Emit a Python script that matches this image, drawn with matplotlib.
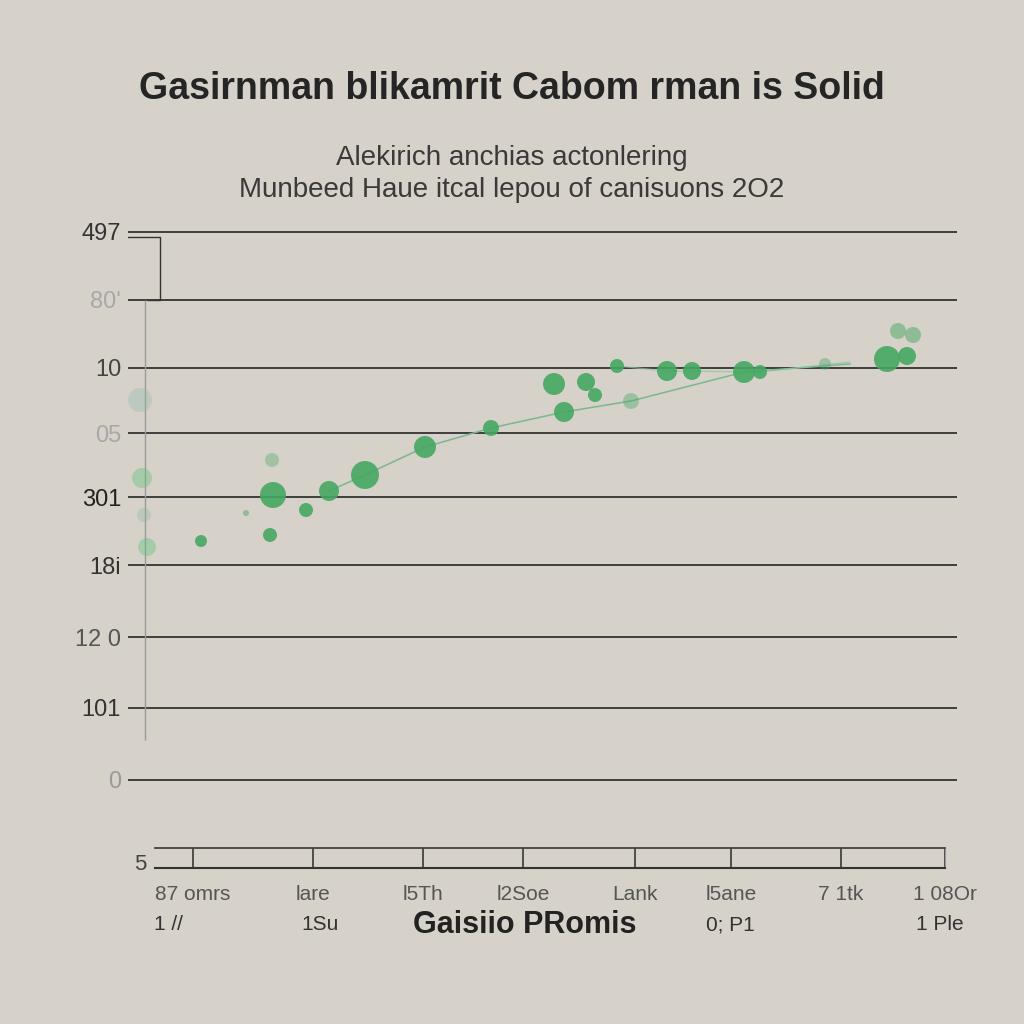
import matplotlib
matplotlib.use("Agg")
import matplotlib.pyplot as plt

plt.rcParams['font.family'] = ['Liberation Sans', 'DejaVu Sans']

# Data (x, y in chart units)
bubbleX = [71, 140, 143, 176, 199, 235, 295, 361, 434, 424, 456, 465, 487, 501, 537,
           562, 614, 630, 695, 757, 777, 768, 783, 142, 116, 10, 12, 14, 17]
bubbleY = [239, 245, 285, 270, 289, 305, 333, 352, 368, 396, 398, 385, 414, 379, 409,
           409, 408, 408, 416, 421, 424, 449, 445, 320, 267, 380, 302, 265, 233]
bubbleR = [6, 7, 13, 7, 10, 14, 11, 8, 10, 11, 9, 7, 7, 8, 10,
           9, 11, 7, 6, 13, 9, 8, 8, 7, 3, 12, 10, 7, 9]
bubbleAlpha = [0.9, 0.9, 0.9, 0.9, 0.9, 0.9, 0.9, 0.9, 0.9, 0.9, 0.9, 0.9, 0.9, 0.4, 0.9,
               0.9, 0.9, 0.9, 0.4, 0.9, 0.9, 0.5, 0.5, 0.35, 0.5, 0.35, 0.4, 0.3, 0.4]
bubbleColor = ['#45a862'] * 25 + ['#8fb8b0', '#5cc27a', '#7fb89a', '#5cc27a']

trendX = [199, 235, 295, 361, 434, 501, 614, 720]
trendY = [289, 305, 333, 352, 368, 379, 408, 416]
trend2X = [487, 537, 562, 614, 630, 720]
trend2Y = [414, 409, 409, 408, 408, 418]

yTicks = [0, 72, 143, 215, 283, 347, 412, 480, 548]
yLabels = ['0', '101', '12 0', '18i', '301', '05', '10', "80'", '497']
yLabelColors = ['#9a9a9a', '#333333', '#555555', '#333333', '#222222',
                '#a8a8a8', '#444444', '#a8a8a8', '#333333']

stripTicks = [38, 158, 268, 368, 480, 576, 686, 790]
stripLabels = ['87 omrs', 'lare', 'l5Th', 'l2Soe', 'Lank', 'l5ane', '7 1tk', '1 08Or']
row2Pos = [13, 165, 575, 785]
row2Labels = ['1 //', '1Su', '0; P1', '1 Ple']

bg = '#d6d1c9'

fig = plt.figure(figsize=(10.24, 10.24), dpi=100, facecolor=bg)

# main plot
ax = fig.add_axes([128 / 1024, 1 - 782 / 1024, 829 / 1024, 554 / 1024])
ax.set_facecolor(bg)
ax.set_xlim(-2, 827)
ax.set_ylim(-2, 552)
for s in ax.spines.values():
    s.set_visible(False)
ax.set_xticks([])
ax.set_yticks(yTicks)
ax.set_yticklabels(yLabels, fontsize=17)
for lbl, c in zip(ax.get_yticklabels(), yLabelColors):
    lbl.set_color(c)
ax.tick_params(axis='y', length=0, pad=5)
for yt in yTicks:
    ax.axhline(yt, color='#333333', lw=1.3, zorder=1)

# faint vertical axis line and the bracket top-left
ax.vlines(15, 40, 480, color='#9a9a9a', lw=1, zorder=1)
ax.plot([-2, 30, 30, 18], [543, 543, 480, 480], color='#333333', lw=1, zorder=1)

ax.plot(trendX, trendY, color='#7ab893', lw=1.1, zorder=2)
ax.plot(trend2X, trend2Y, color='#8cc4a2', lw=1, alpha=0.7, zorder=2)

for x, y, r, a, c in zip(bubbleX, bubbleY, bubbleR, bubbleAlpha, bubbleColor):
    ax.scatter(x, y, s=2.07 * r * r, color=c, alpha=a, edgecolors='none', zorder=3)

# bottom strip
ax2 = fig.add_axes([155 / 1024, 1 - 868 / 1024, 790 / 1024, 20 / 1024])
ax2.set_facecolor(bg)
ax2.set_xlim(0, 790)
ax2.set_ylim(0, 1)
ax2.spines['left'].set_visible(False)
ax2.spines['right'].set_color('#999999')
ax2.spines['top'].set_color('#444444')
ax2.spines['bottom'].set_color('#333333')
ax2.spines['top'].set_linewidth(1.3)
ax2.spines['bottom'].set_linewidth(1.5)
ax2.set_xticks(stripTicks)
ax2.set_xticklabels(stripLabels, fontsize=15, color='#555555')
ax2.tick_params(axis='x', length=0, pad=12)
ax2.grid(axis='x', color='#444444', lw=1.3)
ax2.set_yticks([0.3])
ax2.set_yticklabels(['5'], fontsize=16, color='#444444')
ax2.tick_params(axis='y', length=0, pad=6)

for xp, t in zip(row2Pos, row2Labels):
    ax2.text(xp, -2.85, t, transform=ax2.get_xaxis_transform(), ha='center', va='center',
             fontsize=15, color='#333333')
ax2.text(370, -2.85, 'Gaisiio PRomis', transform=ax2.get_xaxis_transform(), ha='center',
         va='center', fontsize=22, fontweight='bold', color='#222222')

# titles
fig.text(0.5, 1 - 89 / 1024, 'Gasirnman blikamrit Cabom rman is Solid', ha='center', va='center',
         fontsize=27, fontweight='bold', color='#252525')
fig.text(0.5, 1 - 158 / 1024, 'Alekirich anchias actonlering', ha='center', va='center',
         fontsize=20, color='#3a3a3a')
fig.text(0.5, 1 - 190 / 1024, 'Munbeed Haue itcal lepou of canisuons 2O2', ha='center', va='center',
         fontsize=20, color='#3a3a3a')

fig.savefig('out.png', dpi=100, facecolor=bg)
